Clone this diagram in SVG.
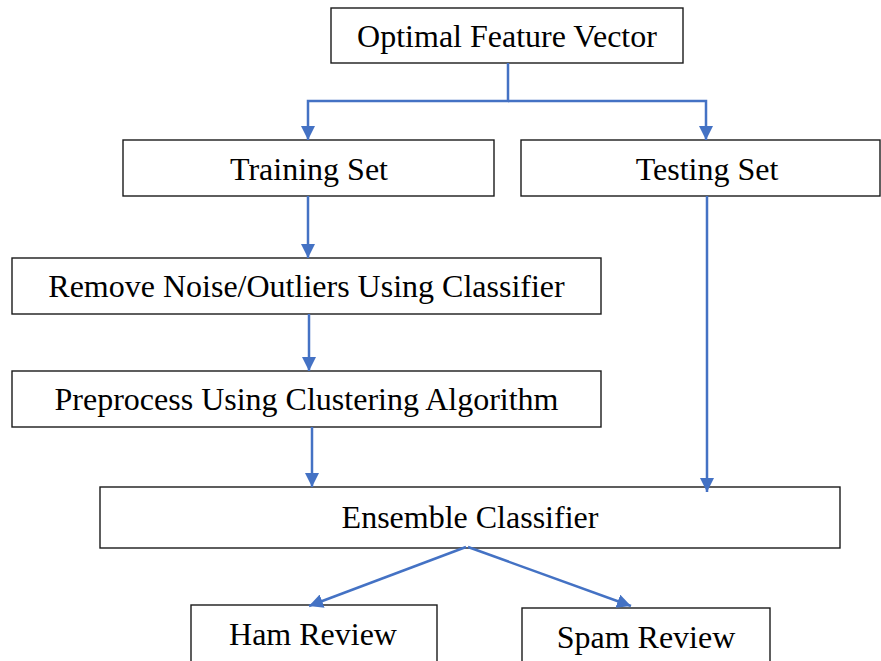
<svg xmlns="http://www.w3.org/2000/svg" width="881" height="661" viewBox="0 0 881 661">
  <style>
    .box { fill: #ffffff; stroke: #1a1a1a; stroke-width: 1.4; }
    .label { font-family: "Liberation Serif", "Times New Roman", serif; font-size: 32px; fill: #000000; text-anchor: middle; }
    .link { fill: none; stroke: #4472C4; stroke-width: 2.5; marker-end: url(#arrow); }
  </style>
  <defs>
    <marker id="arrow" markerUnits="userSpaceOnUse" markerWidth="14" markerHeight="14" viewBox="0 0 14 14" refX="14" refY="7" orient="auto">
      <path d="M0,0 L14,7 L0,14 Z" fill="#4472C4"/>
    </marker>
  </defs>
  <rect width="881" height="661" fill="#ffffff"/>

  <g id="node-optimal-feature-vector">
    <rect class="box" x="331" y="8" width="352" height="55"/>
    <text class="label" x="507" y="47">Optimal Feature Vector</text>
  </g>
  <g id="node-training-set">
    <rect class="box" x="123" y="140" width="371" height="56"/>
    <text class="label" x="309" y="180">Training Set</text>
  </g>
  <g id="node-testing-set">
    <rect class="box" x="521" y="140" width="359" height="56"/>
    <text class="label" x="707" y="180">Testing Set</text>
  </g>
  <g id="node-remove-noise">
    <rect class="box" x="12" y="258" width="589" height="56"/>
    <text class="label" x="306.5" y="297">Remove Noise/Outliers Using Classifier</text>
  </g>
  <g id="node-preprocess">
    <rect class="box" x="12" y="371" width="589" height="56"/>
    <text class="label" x="306.5" y="410">Preprocess Using Clustering Algorithm</text>
  </g>
  <g id="node-ensemble">
    <rect class="box" x="100" y="487" width="740" height="61"/>
    <text class="label" x="470" y="528">Ensemble Classifier</text>
  </g>
  <g id="node-ham">
    <rect class="box" x="191" y="605" width="246" height="70"/>
    <text class="label" x="313" y="645">Ham Review</text>
  </g>
  <g id="node-spam">
    <rect class="box" x="522" y="608" width="248" height="70"/>
    <text class="label" x="646" y="648">Spam Review</text>
  </g>

  <g id="connectors">
    <path class="link" d="M508,63 V101 H308 V140"/>
    <path class="link" d="M508,101 H706 V140"/>
    <path class="link" d="M308,196 V258"/>
    <path class="link" d="M309,314 V371"/>
    <path class="link" d="M312,427 V487"/>
    <path class="link" d="M707,196 V492"/>
    <path class="link" d="M466,547 L309,606"/>
    <path class="link" d="M468,547 L631,606"/>
  </g>
</svg>
